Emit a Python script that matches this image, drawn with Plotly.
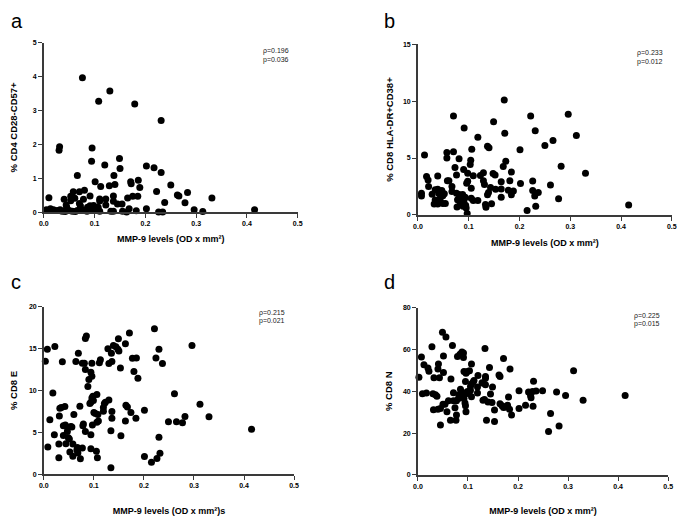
import plotly.graph_objects as go

# ---------------- data ----------------
a_x = [0.076, 0.130, 0.108, 0.179, 0.231, 0.030, 0.031, 0.095, 0.094, 0.149, 0.150, 0.120, 0.202, 0.217, 0.231,
       0.066, 0.138, 0.101, 0.112, 0.129, 0.140, 0.171, 0.172, 0.186, 0.189, 0.250,
       0.222, 0.263, 0.266, 0.283, 0.278, 0.331, 0.238, 0.415, 0.313, 0.296, 0.202, 0.226, 0.234, 0.182,
       0.165, 0.175, 0.185, 0.168, 0.145, 0.154, 0.137, 0.137, 0.132, 0.137, 0.155, 0.163,
       0.122, 0.110, 0.122, 0.107, 0.091, 0.080, 0.070, 0.058, 0.053, 0.053, 0.061, 0.040, 0.044, 0.045, 0.050,
       0.070, 0.072, 0.078, 0.081, 0.086, 0.091,
       0.010, 0.005, 0.013, 0.019, 0.026, 0.032, 0.036,
       0.094, 0.097, 0.100, 0.103, 0.110, 0.062, 0.066, 0.075, 0.085, 0.088, 0.042, 0.056, 0.110, 0.098]
a_y = [3.96, 3.57, 3.27, 3.19, 2.70, 1.83, 1.93, 1.89, 1.50, 1.58, 1.29, 1.39, 1.36, 1.31, 1.17,
       1.08, 1.08, 0.90, 0.76, 0.78, 0.82, 0.90, 0.84, 0.94, 0.73, 0.80,
       0.61, 0.51, 0.48, 0.58, 0.28, 0.42, 0.29, 0.07, 0.02, 0.07, 0.10, 0.01, 0.01, 0.04,
       0.42, 0.47, 0.47, 0.10, 0.24, 0.24, 0.32, 0.48, 0.03, 0.03, 0.03, 0.01,
       0.39, 0.39, 0.21, 0.15, 0.48, 0.65, 0.60, 0.60, 0.47, 0.34, 0.41, 0.38, 0.21, 0.15, 0.05,
       0.26, 0.19, 0.38, 0.05, 0.15, 0.19,
       0.43, 0.07, 0.10, 0.07, 0.05, 0.07, 0.03,
       0.05, 0.15, 0.08, 0.12, 0.03, 0.02, 0.05, 0.08, 0.03, 0.10, 0.02, 0.03, 0.33, 0.20]

b_x = [0.170, 0.070, 0.091, 0.149, 0.171, 0.118, 0.222, 0.231, 0.296, 0.312, 0.250, 0.266, 0.201, 0.106, 0.137, 0.140,
       0.013, 0.057, 0.070, 0.057, 0.081, 0.104, 0.103, 0.173, 0.168, 0.282, 0.330,
       0.073, 0.090, 0.076, 0.098, 0.109, 0.123, 0.129, 0.148, 0.152, 0.184, 0.226,
       0.039, 0.017, 0.020, 0.058, 0.061, 0.098, 0.096, 0.129, 0.131, 0.143, 0.164, 0.181, 0.202,
       0.021, 0.007, 0.007, 0.028, 0.034, 0.039, 0.047, 0.041, 0.049, 0.052, 0.034, 0.041, 0.049, 0.032, 0.039, 0.054, 0.044,
       0.067, 0.067, 0.076, 0.081, 0.084, 0.088, 0.078, 0.077, 0.083, 0.087, 0.091, 0.089, 0.094, 0.095, 0.097, 0.093, 0.085,
       0.105, 0.105, 0.109, 0.118, 0.133, 0.134, 0.145, 0.137, 0.139, 0.153, 0.164, 0.164, 0.178, 0.184, 0.188, 0.226,
       0.230, 0.237, 0.215, 0.232, 0.261, 0.277, 0.415]
b_y = [10.09, 8.70, 7.63, 8.18, 7.17, 6.82, 8.70, 7.40, 8.84, 6.97, 6.10, 6.53, 5.72, 5.78, 6.04, 5.90,
       5.26, 5.49, 5.55, 5.00, 4.94, 4.80, 4.42, 4.71, 4.25, 4.28, 3.67,
       4.16, 3.99, 3.50, 3.67, 3.44, 3.47, 3.70, 3.64, 3.50, 3.76, 2.98,
       3.41, 3.38, 3.06, 3.00, 3.00, 2.95, 2.77, 3.00, 2.66, 2.40, 2.92, 3.00, 2.75,
       2.49, 1.90, 1.65, 1.82, 2.20, 2.25, 2.14, 1.90, 1.68, 1.85, 1.30, 1.25, 1.00, 0.95, 0.95, 1.00, 1.48,
       2.49, 2.05, 1.90, 1.80, 1.65, 1.80, 1.33, 0.69, 0.90, 1.10, 1.33, 0.75, 0.84, 0.60, 0.12, 1.55, 1.20,
       2.34, 1.47, 1.27, 1.27, 0.92, 0.66, 0.98, 1.76, 1.96, 2.25, 2.28, 1.56, 2.17, 1.76, 2.11, 2.14,
       1.65, 1.96, 0.38, 0.75, 2.63, 1.42, 0.87]

c_x = [0.003, 0.007, 0.022, 0.012, 0.008, 0.018, 0.021, 0.030, 0.031, 0.030, 0.032, 0.035, 0.042, 0.037, 0.039,
       0.043, 0.039, 0.044, 0.047, 0.047, 0.049, 0.051, 0.052, 0.054, 0.056, 0.058, 0.058, 0.060, 0.064, 0.069,
       0.066, 0.068, 0.067, 0.072, 0.073, 0.077, 0.078, 0.079, 0.077, 0.081, 0.083, 0.083, 0.085, 0.083, 0.088,
       0.090, 0.094, 0.096, 0.092, 0.094, 0.096, 0.098, 0.099, 0.096, 0.094, 0.094, 0.097, 0.100, 0.103, 0.105,
       0.107, 0.106, 0.108, 0.106, 0.109, 0.111, 0.113, 0.119, 0.121, 0.123, 0.119, 0.130, 0.128, 0.130, 0.135,
       0.136, 0.134, 0.134, 0.136, 0.136, 0.139, 0.144, 0.148, 0.150, 0.149, 0.153, 0.154, 0.163, 0.164, 0.167,
       0.163, 0.171, 0.174, 0.177, 0.185, 0.180, 0.184, 0.188, 0.201, 0.201, 0.215, 0.221, 0.224, 0.226, 0.230,
       0.230, 0.232, 0.237, 0.249, 0.261, 0.265, 0.277, 0.282, 0.296, 0.312, 0.330, 0.415]
c_y = [13.49, 14.90, 15.25, 6.51, 3.25, 9.69, 4.71, 1.96, 6.94, 3.61, 7.88, 7.96, 8.08, 13.41, 5.80,
       5.88, 4.63, 3.65, 5.60, 5.10, 4.35, 4.20, 2.67, 5.70, 5.65, 3.60, 2.16, 7.14, 13.45, 14.43,
       2.90, 2.55, 3.20, 8.12, 1.84, 3.14, 5.80, 6.00, 13.25, 13.25, 12.50, 16.20, 16.50, 5.10, 10.47,
       11.30, 12.16, 11.70, 8.43, 8.60, 9.10, 9.30, 8.80, 13.25, 4.71, 3.06, 5.88, 7.37, 7.25, 2.75,
       1.96, 9.53, 7.14, 6.20, 6.35, 13.30, 13.65, 7.96, 8.43, 8.59, 7.53, 8.86, 14.98, 13.20, 14.43,
       13.45, 5.20, 0.78, 7.50, 6.67, 15.37, 15.20, 14.90, 14.70, 16.16, 12.67, 4.59, 15.57, 8.24, 8.04,
       6.35, 16.86, 7.37, 13.84, 13.88, 12.27, 6.67, 11.45, 7.65, 2.12, 1.45, 17.37, 13.88, 1.88, 14.90,
       4.43, 2.51, 13.20, 6.27, 9.60, 6.27, 6.16, 6.90, 15.37, 8.35, 6.86, 5.37]

d_x = [0.002, 0.007, 0.009, 0.012, 0.017, 0.020, 0.022, 0.028, 0.030, 0.035, 0.038, 0.031, 0.032, 0.040, 0.045,
       0.041, 0.040, 0.043, 0.045, 0.049, 0.051, 0.051, 0.050, 0.054, 0.056, 0.058, 0.061, 0.065, 0.066, 0.069,
       0.071, 0.071, 0.074, 0.077, 0.076, 0.077, 0.081, 0.079, 0.084, 0.088, 0.091, 0.091, 0.082, 0.085, 0.088,
       0.090, 0.092, 0.094, 0.095, 0.096, 0.092, 0.096, 0.099, 0.095, 0.096, 0.099, 0.102, 0.103, 0.105, 0.107,
       0.110, 0.107, 0.105, 0.107, 0.112, 0.119, 0.120, 0.119, 0.128, 0.131, 0.130, 0.133, 0.134, 0.135, 0.135,
       0.135, 0.137, 0.140, 0.143, 0.145, 0.148, 0.149, 0.153, 0.153, 0.162, 0.164, 0.164, 0.168, 0.171, 0.174,
       0.171, 0.179, 0.181, 0.184, 0.183, 0.187, 0.202, 0.202, 0.215, 0.221, 0.225, 0.226, 0.229, 0.236, 0.230,
       0.231, 0.249, 0.261, 0.265, 0.277, 0.282, 0.295, 0.311, 0.330, 0.414]
d_y = [46.7, 56.4, 38.8, 52.7, 39.1, 51.1, 49.5, 61.3, 38.8, 38.3, 37.6, 31.1, 46.4, 31.4, 31.7,
       53.0, 50.6, 46.4, 23.9, 68.2, 56.9, 49.0, 33.8, 33.8, 65.9, 30.2, 35.4, 26.1, 45.9, 61.9,
       39.3, 35.4, 32.1, 28.6, 26.1, 35.4, 36.5, 56.6, 57.7, 58.8, 58.3, 56.1, 38.3, 40.9, 39.6,
       37.6, 36.5, 34.4, 33.0, 30.2, 49.4, 48.6, 49.4, 44.6, 38.8, 39.9, 39.6, 49.8, 42.3, 43.4,
       44.3, 53.0, 40.4, 37.4, 45.1, 42.0, 47.5, 39.1, 44.0, 43.8, 35.7, 36.1, 60.4, 47.1, 46.2,
       43.1, 26.1, 34.9, 51.4, 38.7, 34.6, 42.0, 31.0, 25.5, 47.8, 47.0, 34.0, 33.0, 32.2, 32.4,
       55.6, 33.3, 37.2, 50.6, 31.4, 28.6, 40.2, 31.7, 33.3, 39.6, 38.0, 36.9, 39.9, 40.1, 32.8,
       44.8, 40.2, 20.7, 29.4, 39.6, 23.4, 38.0, 49.8, 35.7, 38.0]

panel_letters = ["a", "b", "c", "d"]
y_titles = ["% CD4 CD28-CD57+", "% CD8 HLA-DR+CD38+", "% CD8 E", "% CD8 N"]
x_titles = ["MMP-9 levels (OD x mm²)", "MMP-9 levels (OD x mm²)",
            "MMP-9 levels (OD x mm²)s", "MMP-9 levels (OD x mm²)"]
rho_text = ["ρ=0.196", "ρ=0.233", "ρ=0.215", "ρ=0.225"]
p_text = ["p=0.036", "p=0.012", "p=0.021", "p=0.015"]
y_max = [5, 15, 20, 80]
y_step = [1, 5, 5, 20]
x_ticks = [0.0, 0.1, 0.2, 0.3, 0.4, 0.5]

# ---------------- layout geometry ----------------
# the page body adds an 8px margin, so the figure is drawn 8px smaller and shifted
OFF = 8
W, H = 685 - OFF, 519 - OFF
# pixel boxes of each plot area in the window: (left, right, top, bottom)
boxes = [(39.3, 297.0, 39.0, 211.0),
         (419.0, 676.7, 40.7, 213.7),
         (39.3, 293.3, 306.7, 476.7),
         (419.0, 673.0, 307.7, 477.3)]
letter_pos = [(4, 17), (383, 17), (4, 282), (383, 282)]
stats_pos = [(260, 48), (639, 50), (256, 313), (636, 316)]
x_standoff = [9, 11, 19, 19]
y_standoff = [13, 8, 11, 9]


def px(v):
    return (v - OFF) / W


def py(v):
    return 1 - (v - OFF) / H


fig = go.Figure()
xs = [a_x, b_x, c_x, d_x]
ys = [a_y, b_y, c_y, d_y]
font_family = "Liberation Sans, Arial, sans-serif"
axis_col = "#3a3a3a"

for i in range(4):
    sfx = "" if i == 0 else str(i + 1)
    fig.add_trace(go.Scatter(
        x=xs[i], y=ys[i], mode="markers",
        marker=dict(color="black", size=7, line=dict(width=0)),
        cliponaxis=False, showlegend=False,
        xaxis="x" + sfx, yaxis="y" + sfx))
    l, r, t, b = boxes[i]
    common = dict(showline=True, linecolor=axis_col, linewidth=1.5, ticks="outside",
                  ticklen=4, tickwidth=1.2, tickcolor=axis_col, showgrid=False, zeroline=False,
                  tickfont=dict(family=font_family, size=7, color="black", weight="bold"))
    fig.layout["xaxis" + sfx] = dict(
        domain=[px(l), px(r)], anchor="y" + sfx, range=[0, 0.5],
        tickvals=x_ticks, tickformat=".1f",
        title=dict(text=x_titles[i], standoff=x_standoff[i],
                   font=dict(family=font_family, size=9, color="black", weight="bold")),
        **common)
    fig.layout["yaxis" + sfx] = dict(
        domain=[py(b), py(t)], anchor="x" + sfx, range=[0, y_max[i]],
        tickvals=list(range(0, y_max[i] + 1, y_step[i])),
        title=dict(text=y_titles[i], standoff=y_standoff[i],
                   font=dict(family=font_family, size=9.5, color="black", weight="bold")),
        **common)
    lx, ly = letter_pos[i]
    fig.add_annotation(text=panel_letters[i], xref="paper", yref="paper",
                       x=px(lx), y=py(ly), xanchor="left", yanchor="middle",
                       showarrow=False, font=dict(family=font_family, size=20, color="black"))
    sx, sy = stats_pos[i]
    for k, txt in enumerate([rho_text[i], p_text[i]]):
        fig.add_annotation(text=txt, xref="paper", yref="paper",
                           x=px(sx), y=py(sy + 8.5 * k), xanchor="left", yanchor="middle",
                           showarrow=False, font=dict(family=font_family, size=7, color="#222222"))

fig.update_layout(width=W, height=H, margin=dict(l=0, r=0, t=0, b=0),
                  paper_bgcolor="white", plot_bgcolor="white")
fig.write_html("out.html")
